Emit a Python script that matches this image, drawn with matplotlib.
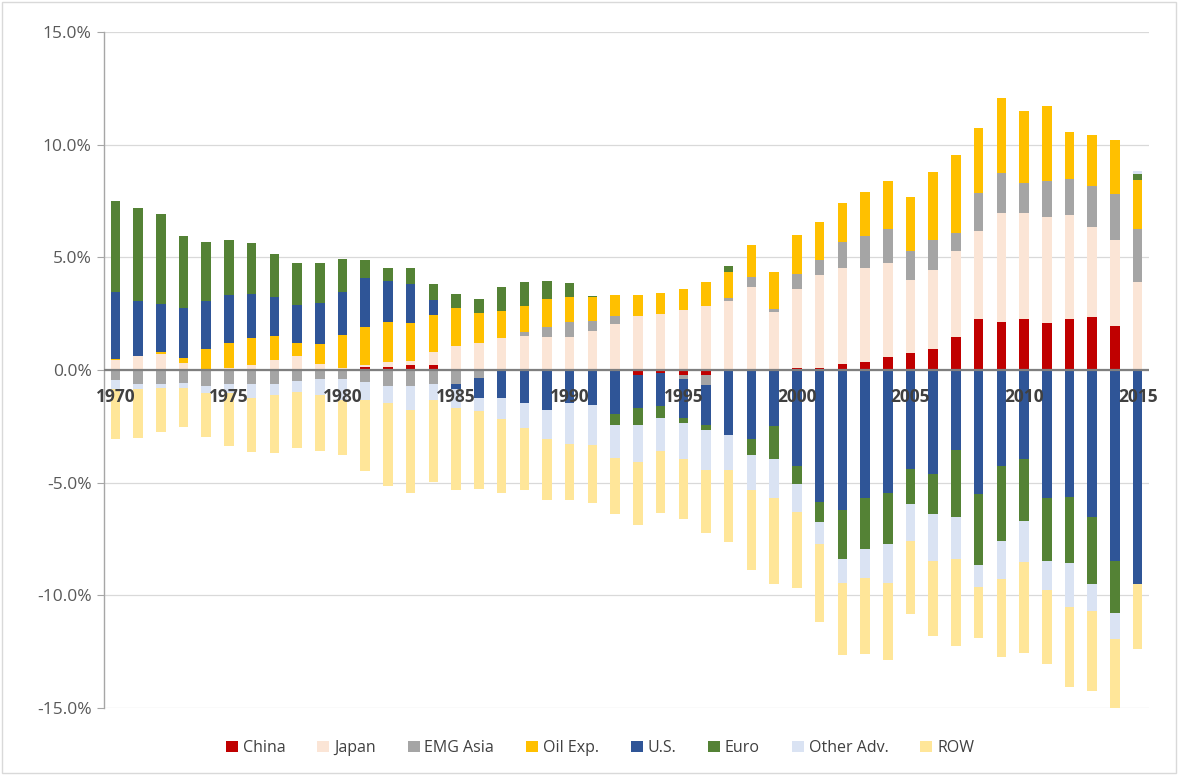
import numpy as np
import matplotlib
matplotlib.use("Agg")
import matplotlib.pyplot as plt
from matplotlib.patches import Patch, Rectangle
from matplotlib.ticker import FuncFormatter
import matplotlib.transforms as mtransforms

years = list(range(1970, 2016))

china = [0, 0, 0, 0, 0, 0, 0, 0, 0, 0,
         0, 0.15, 0.15, 0.2, 0.2, 0.05, 0, 0, 0, 0,
         0, 0.05, 0, -0.2, -0.15, -0.24, -0.24, 0, 0, 0,
         0.1, 0.1, 0.27, 0.34, 0.56, 0.77, 0.92, 1.48, 2.26, 2.14,
         2.25, 2.1, 2.26, 2.36, 1.96, 0]
japan = [0.45, 0.6, 0.69, 0.33, 0.05, 0.1, 0.2, 0.43, 0.6, 0.25,
         0.1, 0.06, 0.22, 0.2, 0.59, 1.0, 1.2, 1.4, 1.52, 1.48,
         1.47, 1.67, 2.06, 2.39, 2.5, 2.65, 2.83, 3.08, 3.69, 2.56,
         3.5, 4.1, 4.27, 4.2, 4.19, 3.23, 3.52, 3.78, 3.92, 4.83,
         4.73, 4.67, 4.64, 4.0, 3.83, 3.92]
emg_asia = [-0.45, -0.6, -0.6, -0.57, -0.72, -0.6, -0.6, -0.6, -0.5, -0.39,
            -0.39, -0.54, -0.72, -0.72, -0.6, -0.64, -0.35, 0, 0.18, 0.44,
            0.64, 0.47, 0.33, 0, 0, -0.14, -0.43, 0.12, 0.44, 0.16,
            0.66, 0.7, 1.15, 1.42, 1.52, 1.3, 1.33, 0.83, 1.69, 1.79,
            1.3, 1.63, 1.57, 1.8, 2.04, 2.32]
oil_exp = [0.05, 0.03, 0.1, 0.2, 0.9, 1.1, 1.2, 1.07, 0.6, 0.9,
           1.45, 1.69, 1.77, 1.7, 1.63, 1.68, 1.33, 1.2, 1.14, 1.21,
           1.14, 1.03, 0.92, 0.92, 0.92, 0.95, 1.08, 1.15, 1.43, 1.65,
           1.71, 1.67, 1.7, 1.92, 2.13, 2.36, 3.02, 3.43, 2.86, 3.33,
           3.22, 3.3, 2.07, 2.29, 2.36, 2.19]
us = [2.98, 2.43, 2.16, 2.22, 2.13, 2.12, 1.97, 1.72, 1.68, 1.82,
      1.9, 2.19, 1.82, 1.73, 0.68, -0.19, -0.88, -1.23, -1.45, -1.78,
      -1.45, -1.57, -1.97, -1.48, -1.45, -1.74, -1.79, -2.9, -3.08, -2.49,
      -4.24, -5.86, -6.22, -5.67, -5.45, -4.41, -4.6, -3.53, -5.52, -4.27,
      -3.97, -5.67, -5.62, -6.53, -8.48, -9.48]
euro = [4.03, 4.11, 3.99, 3.21, 2.62, 2.44, 2.26, 1.92, 1.88, 1.77,
        1.47, 0.81, 0.58, 0.71, 0.7, 0.64, 0.64, 1.07, 1.05, 0.83,
        0.59, 0.07, -0.45, -0.74, -0.52, -0.22, -0.22, 0.25, -0.67, -1.45,
        -0.84, -0.89, -2.18, -2.26, -2.26, -1.52, -1.81, -3.0, -3.14, -3.32,
        -2.74, -2.81, -2.96, -2.95, -2.29, 0.25]
other_adv = [-0.38, -0.26, -0.19, -0.22, -0.29, -0.41, -0.63, -0.49, -0.48, -0.74,
             -0.92, -0.8, -0.73, -1.06, -0.74, -0.85, -0.6, -0.93, -1.11, -1.3,
             -1.85, -1.78, -1.47, -1.65, -1.48, -1.63, -1.76, -1.56, -1.58, -1.73,
             -1.21, -0.96, -1.04, -1.29, -1.76, -1.66, -2.07, -1.87, -0.95, -1.7,
             -1.8, -1.3, -1.92, -1.22, -1.18, 0.15]
row = [-2.22, -2.15, -1.95, -1.75, -1.97, -2.37, -2.4, -2.58, -2.47, -2.47,
       -2.48, -3.15, -3.7, -3.7, -3.64, -3.65, -3.47, -3.32, -2.77, -2.69,
       -2.47, -2.54, -2.52, -2.83, -2.76, -2.66, -2.81, -3.16, -3.56, -3.81,
       -3.4, -3.47, -3.22, -3.37, -3.4, -3.25, -3.32, -3.87, -2.3, -3.45,
       -4.03, -3.28, -3.57, -3.54, -3.07, -2.91]

series_names = ["China", "Japan", "EMG Asia", "Oil Exp.", "U.S.", "Euro", "Other Adv.", "ROW"]
series_vals = [china, japan, emg_asia, oil_exp, us, euro, other_adv, row]
colors = ["#C00000", "#FBE5D6", "#A5A5A5", "#FFC000", "#2F5597", "#548235", "#DAE3F3", "#FFE699"]

fig = plt.figure(figsize=(11.78, 7.75), dpi=100)
ax = fig.add_axes([104/1178, 1 - 708/775, (1149-104)/1178, (708-32)/775])

x = np.arange(len(years))
pos_base = np.zeros(len(years))
neg_base = np.zeros(len(years))
for name, vals, c in zip(series_names, series_vals, colors):
    v = np.array(vals, dtype=float)
    bottoms = np.where(v >= 0, pos_base, neg_base)
    ax.bar(x, v, width=0.42, bottom=bottoms, color=c, linewidth=0, zorder=3)
    pos_base = pos_base + np.where(v >= 0, v, 0)
    neg_base = neg_base + np.where(v < 0, v, 0)

ax.set_xlim(-0.5, len(years) - 0.5)
ax.set_ylim(-15, 15)
ax.set_yticks([-15, -10, -5, 0, 5, 10, 15])
ax.yaxis.set_major_formatter(FuncFormatter(lambda v, p: f"{v:.1f}%"))
ax.grid(axis="y", color="#D9D9D9", linewidth=0.9, zorder=0)
ax.set_axisbelow(True)

for s in ["top", "right", "bottom"]:
    ax.spines[s].set_visible(False)
ax.spines["left"].set_color("#A6A6A6")
ax.spines["left"].set_linewidth(1.0)
ax.axhline(0, color="#7F7F7F", linewidth=1.6, zorder=4)

ax.set_xticks([])
offset = mtransforms.offset_copy(ax.transData, fig=fig, x=0, y=-27, units="dots")
for i, yv in enumerate(years):
    if yv % 5 == 0:
        ax.text(i, 0, str(yv), transform=offset, ha="center", va="center",
                fontsize=12.5, fontweight="bold", color="#404040",
                family="Open Sans", zorder=6, clip_on=False)

ax.tick_params(axis="y", length=5, color="#A6A6A6", labelsize=12.5, labelcolor="#595959", pad=4)
for lbl in ax.get_yticklabels():
    lbl.set_fontfamily("Open Sans")

handles = [Patch(facecolor=c, edgecolor="none", label=n) for n, c in zip(series_names, colors)]
leg = fig.legend(handles=handles, loc="center", bbox_to_anchor=(600/1178, 1 - 748/775), ncol=8,
                 frameon=False, handlelength=0.75, handleheight=0.75, handletextpad=0.3,
                 columnspacing=2.0, prop={"family": "Open Sans", "size": 11.5})
for t in leg.get_texts():
    t.set_color("#404040")

fig.patches.append(Rectangle((0.002, 0.002), 0.996, 0.996, transform=fig.transFigure,
                             fill=False, edgecolor="#D9D9D9", linewidth=1.0))

fig.savefig("out.png", dpi=100, facecolor="white")
